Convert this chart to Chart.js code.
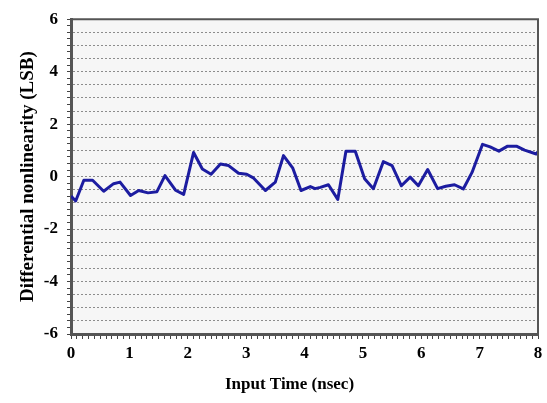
<!DOCTYPE html>
<html>
<head>
<meta charset="utf-8">
<title>Differential nonlinearity</title>
<script src="https://cdn.jsdelivr.net/npm/chart.js@4"></script>
<style>
  html, body { margin: 0; padding: 0; background: #fff; }
</style>
</head>
<body>
<canvas id="dnlChart" width="547" height="403"></canvas>
<script>
// Input time of each measured point (nsec)
const inputTime = [
  0, 0.08, 0.22, 0.37, 0.56, 0.73, 0.84, 1.02, 1.16, 1.32, 1.47, 1.61, 1.79, 1.93,
  2.10, 2.25, 2.40, 2.56, 2.70, 2.87, 3.01, 3.13, 3.33, 3.50, 3.64, 3.80, 3.94,
  4.10, 4.18, 4.27, 4.41, 4.57, 4.71, 4.87, 5.03, 5.18, 5.35, 5.50, 5.66, 5.81, 5.95,
  6.11, 6.28, 6.42, 6.57, 6.72, 6.87, 7.05, 7.18, 7.33, 7.48, 7.63, 7.77, 7.97, 8.0
];

// Differential nonlinearity (LSB)
const dnl = [
  -0.74, -0.93, -0.14, -0.14, -0.56, -0.27, -0.21, -0.72, -0.53, -0.62, -0.58, 0.04, -0.52, -0.68,
  0.92, 0.29, 0.09, 0.48, 0.42, 0.13, 0.09, -0.06, -0.53, -0.21, 0.80, 0.32, -0.53,
  -0.38, -0.46, -0.41, -0.31, -0.87, 0.97, 0.97, -0.08, -0.46, 0.57, 0.42, -0.35, -0.02, -0.35,
  0.27, -0.46, -0.37, -0.31, -0.47, 0.16, 1.23, 1.13, 0.97, 1.16, 1.16, 1.01, 0.86, 0.95
];

// Labelled ticks
const xTickLabels = [0, 1, 2, 3, 4, 5, 6, 7, 8];
const yTickLabels = [-6, -4, -2, 0, 2, 4, 6];

const xTitle = 'Input Time (nsec)';
const yTitle = 'Differential nonlinearity (LSB)';

const serif = "'Liberation Serif', 'Times New Roman', serif";

function near(a, b) {
  return Math.abs(a - b) < 1e-6;
}

// Plot background, top/right frame and the x axis title
const plotFrame = {
  id: 'plotFrame',
  beforeDraw(chart) {
    const { ctx, chartArea: a } = chart;
    ctx.save();
    ctx.fillStyle = '#f6f6f6';
    ctx.fillRect(a.left, a.top, a.right - a.left, a.bottom - a.top);
    ctx.restore();
  },
  afterDraw(chart) {
    const { ctx, chartArea: a } = chart;
    ctx.save();
    ctx.strokeStyle = '#555';
    ctx.lineWidth = 2;
    ctx.beginPath();
    ctx.moveTo(a.left, a.top);
    ctx.lineTo(a.right, a.top);
    ctx.lineTo(a.right, a.bottom);
    ctx.stroke();

    ctx.fillStyle = '#000';
    ctx.font = 'bold 17px ' + serif;
    ctx.textAlign = 'center';
    ctx.textBaseline = 'middle';
    ctx.fillText(xTitle, (a.left + a.right) / 2 - 15, 385);
    ctx.restore();
  }
};

const ctx = document.getElementById('dnlChart').getContext('2d');
new Chart(ctx, {
  type: 'line',
  data: {
    datasets: [{
      label: 'DNL',
      data: inputTime.map((t, i) => ({ x: t, y: dnl[i] })),
      borderColor: '#1c1ca0',
      borderWidth: 3,
      borderJoinStyle: 'round',
      pointRadius: 0,
      tension: 0,
      fill: false
    }]
  },
  options: {
    responsive: false,
    animation: false,
    layout: { padding: { top: 14, right: 9, left: 0, bottom: 0 } },
    plugins: {
      legend: { display: false },
      tooltip: { enabled: false }
    },
    scales: {
      x: {
        type: 'linear',
        min: 0,
        max: 8,
        afterFit: scale => { scale.height = 69; },
        ticks: {
          stepSize: 0.1,
          autoSkip: false,
          maxRotation: 0,
          padding: 4,
          color: '#000',
          font: { family: serif, size: 17, weight: 'bold' },
          callback: v => xTickLabels.some(l => near(l, v)) ? String(Math.round(v)) : ''
        },
        grid: {
          drawOnChartArea: false,
          color: 'transparent',
          tickColor: '#444',
          tickWidth: 1,
          tickLength: 5
        },
        border: { color: '#555', width: 3 }
      },
      y: {
        min: -6,
        max: 6,
        afterFit: scale => { scale.width = 71; },
        ticks: {
          stepSize: 0.25,
          autoSkip: false,
          padding: 9,
          color: '#000',
          font: { family: serif, size: 17, weight: 'bold' },
          callback: v => yTickLabels.some(l => near(l, v)) ? String(Math.round(v)) : ''
        },
        grid: {
          color: c => {
            const v = c.tick ? c.tick.value : 0;
            return near(v * 2, Math.round(v * 2)) && Math.abs(v) < 5.99 ? '#8c8c8c' : 'transparent';
          },
          lineWidth: 1,
          tickColor: '#444',
          tickWidth: 1,
          tickLength: 4
        },
        border: { color: '#555', width: 3, dash: [2, 2] },
        title: {
          display: true,
          text: yTitle,
          color: '#000',
          font: { family: serif, size: 19, weight: 'bold' },
          padding: { top: 17, bottom: 0 }
        }
      }
    }
  },
  plugins: [plotFrame]
});
</script>
</body>
</html>
